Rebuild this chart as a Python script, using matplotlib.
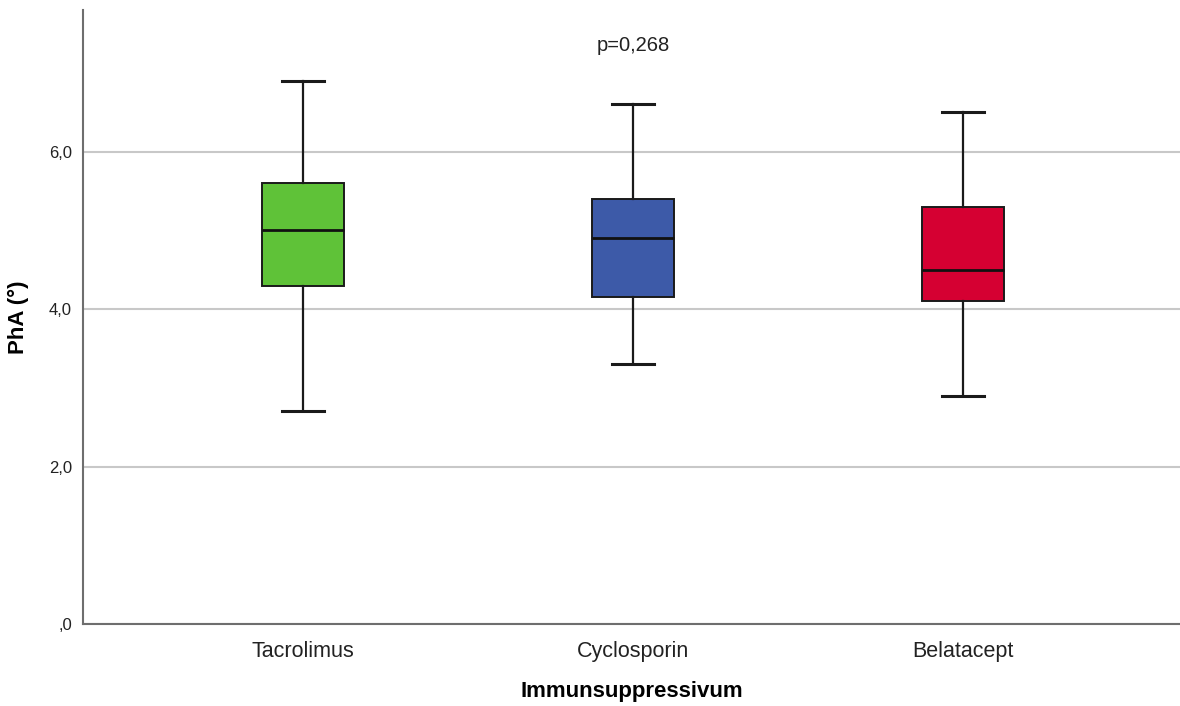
import matplotlib
matplotlib.use("Agg")
import matplotlib.pyplot as plt

plt.rcParams['font.family'] = ['Liberation Sans', 'DejaVu Sans']

# values
groups = ['Tacrolimus', 'Cyclosporin', 'Belatacept']
whislo = [2.7, 3.3, 2.9]
q1 = [4.3, 4.15, 4.1]
med = [5.0, 4.9, 4.5]
q3 = [5.6, 5.4, 5.3]
whishi = [6.9, 6.6, 6.5]
colors = ['#5fc238', '#3d5aa8', '#d50032']
yticks = [0, 2, 4, 6]
yticklabels = [',0', '2,0', '4,0', '6,0']
p_text = 'p=0,268'

fig = plt.figure(figsize=(11.8, 7.06), dpi=100)
ax = fig.add_axes([83/1180, 1 - 624/706, 1 - 83/1180, (624 - 10)/706])

stats = []
for i, g in enumerate(groups):
    stats.append(dict(label=g, whislo=whislo[i], q1=q1[i], med=med[i],
                      q3=q3[i], whishi=whishi[i], fliers=[]))

bp = ax.bxp(stats, positions=range(len(groups)), widths=0.25, patch_artist=True,
            showfliers=False,
            boxprops=dict(edgecolor='#1a1a1a', linewidth=1.4),
            medianprops=dict(color='#111111', linewidth=2),
            whiskerprops=dict(color='#1a1a1a', linewidth=1.6),
            capprops=dict(color='#1a1a1a', linewidth=2.2), capwidths=0.125)
for patch, c in zip(bp['boxes'], colors):
    patch.set_facecolor(c)
for art in bp['boxes'] + bp['medians'] + bp['whiskers'] + bp['caps']:
    art.set_zorder(3)

ax.set_xlim(-0.667, 2.658)
ax.set_ylim(0, 7.8)
ax.set_yticks(yticks)
ax.set_yticklabels(yticklabels)
ax.yaxis.grid(True, color='#c8c8c8', linewidth=1.5)
ax.set_axisbelow(True)
ax.tick_params(axis='both', length=0)
ax.tick_params(axis='y', labelsize=12, pad=8, labelcolor='#222222')
ax.tick_params(axis='x', labelsize=15.5, pad=12, labelcolor='#222222')

for s in ['top', 'right']:
    ax.spines[s].set_visible(False)
for s in ['left', 'bottom']:
    ax.spines[s].set_color('#6e6e6e')
    ax.spines[s].set_linewidth(1.5)

ax.set_xlabel('Immunsuppressivum', fontsize=16, fontweight='bold', labelpad=14)
ax.set_ylabel('PhA (°)', fontsize=16, fontweight='bold', labelpad=14)

ax.text(1, 7.35, p_text, ha='center', va='center', fontsize=14.5, color='#222222')

fig.savefig('out.png', dpi=100)
